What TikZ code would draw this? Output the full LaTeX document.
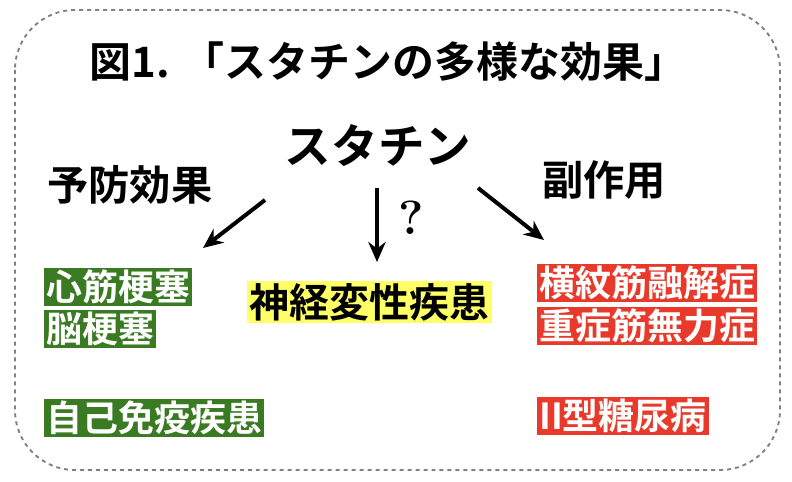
\documentclass[tikz,border=0pt]{standalone}
\usepackage{fontspec}
\newfontfamily\jp{Noto Sans CJK JP}[BoldFont={Noto Sans CJK JP Bold}]
\usetikzlibrary{arrows.meta}
\definecolor{effgreen}{HTML}{3A7A22}
\definecolor{sidered}{HTML}{E8392B}
\definecolor{hlyellow}{HTML}{FFFF66}
\tikzset{
  head/.style={font=\jp\bfseries\fontsize{31}{33}\selectfont},
  greenbox/.style={anchor=west,fill=effgreen,text=white,inner sep=1.5pt,font=\jp\bfseries\fontsize{27}{29}\selectfont},
  redbox/.style={anchor=west,fill=sidered,text=white,inner sep=1.5pt,font=\jp\bfseries\fontsize{27}{29}\selectfont},
  arr/.style={-{Stealth[length=15pt,width=13pt]},line width=3pt}
}
\begin{document}
\begin{tikzpicture}[x=0.0264cm,y=-0.0264cm]
\useasboundingbox (0,0) rectangle (792,482);
% frame
\draw[gray,dashed,line width=1.4pt,rounded corners=45pt] (15,10) rectangle (780,470);
% title
\node[anchor=west,font=\jp\bfseries\fontsize{31.5}{34}\selectfont] (title) at (85,62) {図1. 「スタチンの多様な効果」};
\node[head,font=\jp\bfseries\fontsize{35}{37}\selectfont] (statin) at (378,146) {スタチン};
\node[head] (prev) at (130,185) {予防効果};
\node[head] (side) at (604,180) {副作用};
% arrows
\coordinate (la) at (265,200);
\coordinate (lb) at (203,248);
\coordinate (ma) at (377,188);
\coordinate (mb) at (377,262);
\coordinate (ra) at (478,188);
\coordinate (rb) at (544,240);
\draw[arr] (la) -- (lb);
\draw[arr] (ma) -- (mb);
\draw[arr] (ra) -- (rb);
\node[font=\bfseries\fontsize{36}{38}\selectfont] (q) at (411,218) {?};
% effects
\node[greenbox] (mi) at (44,287) {心筋梗塞};
\node[greenbox] (ci) at (44,329) {脳梗塞};
\node[greenbox] (ai) at (44,418) {自己免疫疾患};
\node[anchor=west,fill=hlyellow,inner sep=2pt,font=\jp\bfseries\fontsize{30}{32}\selectfont] (nd) at (247,302) {神経変性疾患};
\node[redbox] (rh) at (537,283) {横紋筋融解症};
\node[redbox] (mg) at (537,326) {重症筋無力症};
\node[redbox] (dm) at (537,416) {II型糖尿病};
\end{tikzpicture}
\end{document}
